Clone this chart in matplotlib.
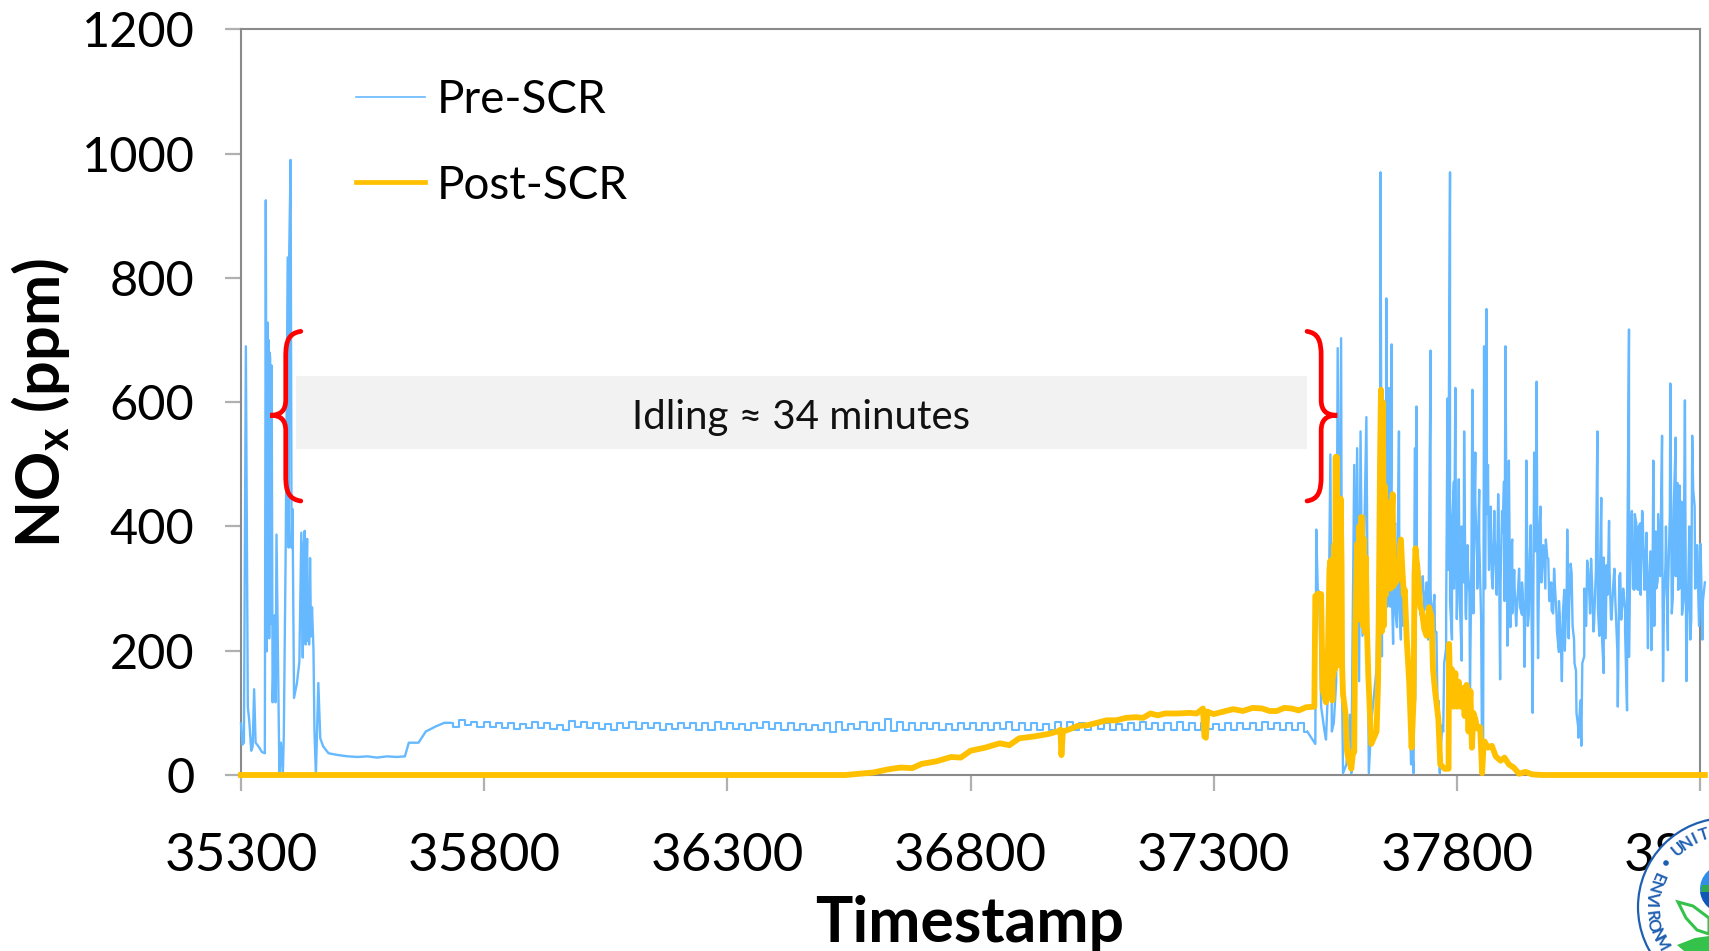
import numpy as np
import matplotlib
matplotlib.use("Agg")
import matplotlib.pyplot as plt
from matplotlib.path import Path
from matplotlib.patches import PathPatch, Rectangle, Circle, Polygon

plt.rcParams['font.family'] = ['Lato', 'DejaVu Sans']
plt.rcParams['mathtext.fontset'] = 'custom'
plt.rcParams['mathtext.bf'] = 'Lato:bold'
plt.rcParams['mathtext.rm'] = 'Lato'

# ---- data ----
pre_start_t = [35300,35303,35306,35310,35314,35317,35321,35324,35327,35330,35336,35343,35349,35351,35353,35355,35356,35357,35358,35359,35360,35361,35363,35365,35369,35371,35373,35377,35379,35382,35386,35388,35392,35396,35398,35399,35402,35404,35406,35409,35415,35420,35424,35427,35429,35431,35433,35434,35436,35437,35439,35440,35442,35444,35446,35449,35451,35454,35459,35463,35469,35480,35500,35520,35540,35560,35580,35600,35620,35637,35645,35665,35680,35700,35718]
pre_start_v = [83,49,52,690,110,87,39,46,138,52,46,37,35,925,199,728,240,700,220,680,670,243,659,117,257,117,387,127,0,52,0,63,373,833,366,833,990,366,428,124,148,182,390,189,370,393,210,305,380,216,284,210,349,223,270,203,73,0,148,59,46,35,32,30,29,30,28,30,29,30,52,52,70,78,84]

idle_first_t = 35730
idle_step_t = 12.5
pre_idle_v = [84,78,88,80,86,78,85,77,84,75,83,74,82,75,86,76,84,74,81,73,87,77,85,76,84,74,82,73,83,75,85,74,84,75,83,73,82,74,84,75,83,72,84,73,85,74,83,74,82,73,84,75,86,74,84,73,83,72,82,73,81,72,84,70,85,73,82,74,86,72,84,73,90,71,86,72,83,73,84,74,83,73,82,72,83,74,84,73,83,73,84,74,85,72,84,73,83,73,82,72,86,74,85,73,84,72,83,74,84,73,82,72,83,73,85,74,83,72,84,73,85,72,84,73,83,74,82,72,84,73,84,74,83,72,85,74,84,73,83,72,84,70]

pre_end_t = [37509,37511,37514,37517,37521,37528,37531,37535,37540,37543,37547,37552,37555,37558,37562,37564,37566,37573,37580,37583,37589,37591,37595,37599,37602,37606,37614,37619,37624,37635,37641,37643,37646,37651,37655,37657,37660,37663,37666,37669,37673,37677,37681,37685,37690,37697,37702,37706,37711,37714,37717,37721,37725,37729,37733,37738,37741,37746,37749,37755,37761,37765,37772,37778,37781,37786,37790,37794,37797,37800,37804,37807,37810,37815,37819,37823,37827,37832,37835,37838,37842,37846,37852,37856,37859,37861,37864,37870,37872,37877,37881,37885,37889,37893,37897,37900,37904,37907,37910,37914,37919,37924,37928,37934,37939,37943,37948,37952,37956,37959,37964,37967,37972,37976,37983,37988,37995,38000,38005,38010,38016,38021,38027,38031,38036,38041,38045,38050,38056,38062,38068,38072,38076,38081,38089,38093,38097,38102,38108,38113,38117,38124,38131,38136,38141,38146,38150,38154,38156,38160,38165,38169,38173,38177,38181,38186,38189,38193,38200,38204,38209,38213,38222,38224,38229,38234,38239,38244,38250,38255,38258,38263,38269,38272,38275,38280,38284,38289,38294,38301,38305]
pre_end_v = [50,395,298,295,110,70,57,137,516,70,84,151,687,204,703,144,3,17,97,3,499,204,526,151,553,224,576,3,84,171,472,970,191,338,767,271,623,271,693,211,405,238,553,218,338,231,137,17,3,526,593,305,258,305,265,305,218,683,204,231,70,3,70,204,606,970,218,472,623,251,476,258,184,553,251,332,137,620,352,519,338,459,0,690,392,750,499,432,318,425,318,452,154,425,472,690,208,506,238,379,298,275,332,258,174,506,258,402,100,519,633,188,432,355,379,348,265,332,258,198,151,298,395,271,325,218,168,74,47,191,345,298,348,231,553,224,446,164,338,409,251,332,110,325,278,268,104,717,338,425,298,405,298,405,425,298,365,204,201,506,392,312,546,151,338,201,630,285,543,298,466,258,603,151,271,218,546,432,305,372,218]

# denser middle-of-band readings, merged with the peaks above by timestamp
band_first_t = 37642
band_step_t = 4
pre_band_v = [300,340,280,360,300,420,310,380,260,340,270,320,240,300,230,
              150,60,20,120,300,340,290,320,280,310,275,300,260,290,230,
              120,30,80,180,260,330,280,400,
              300,420,340,280,400,310,260,370,290,340,260,440,300,380,250,30,300,
              420,330,400,300,380,290,420,310,390,280,
              420,300,360,260,330,240,300,270,310,250,330,240,350,230,400,
              360,280,400,310,370,300,350,280,310,260,
              300,230,280,210,260,200,300,220,340,240,
              180,100,60,120,180,
              300,240,330,260,310,240,330,270,
              310,230,350,220,290,330,250,310,
              280,200,320,250,300,230,280,190,
              400,300,420,300,400,290,420,320,390,290,360,260,240,
              300,420,320,460,280,400,290,420,260,430,
              320,470,300,440,280,420,260,400,250,460,300,370,240,340,280,310]

post_t = [35300,36543,36600,36630,36656,36680,36700,36730,36760,36780,36800,36830,36860,36880,36900,36930,36960,36983,36985,36987,36990,37005,37020,37040,37060,37080,37100,37120,37140,37155,37170,37185,37200,37225,37250,37265,37278,37281,37284,37287,37300,37320,37340,37360,37380,37400,37415,37430,37445,37460,37475,37490,37507,
          37509,37515,37521,37524,37531,37535,37538,37540,37541,37543,37544,37545,37546,37548,37549,37551,37552,37553,37554,37556,37557,37558,37559,37561,37563,37564,37566,37571,37574,37576,37583,37587,37589,37591,37595,37597,37599,37601,37603,37605,37607,37609,37611,37613,37615,37618,37621,37624,37635,37638,37640,37642,37644,37646,37648,37650,37652,37654,37656,37658,37660,37662,37664,37666,37668,37670,37672,37675,37680,37683,37685,37688,37691,37693,37697,37702,37707,37711,37713,37715,37718,37722,37725,37728,37733,37738,37743,37748,37751,37755,37762,37766,37775,37783,37784,37787,37790,37793,37797,37800,37804,37808,37812,37816,37820,37824,37828,37831,37834,37838,37842,37848,37852,37855,37857,37864,37872,37880,37890,37898,37907,37917,37928,37941,37955,37975,38310]
post_v = [0,0,4,9,12,11,18,22,29,28,39,44,51,48,59,62,66,71,73,32,70,74,79,80,84,88,88,92,93,92,99,96,99,99,100,99,107,62,60,102,98,102,106,103,108,107,103,103,108,107,104,109,110,
          288,292,291,137,117,200,330,345,150,345,120,348,160,370,170,512,190,512,177,440,177,445,177,445,340,177,130,100,40,30,10,40,37,231,372,260,400,250,415,415,240,380,230,350,240,160,104,50,70,150,300,500,620,231,600,240,465,290,440,304,350,412,300,412,452,304,340,310,318,370,379,330,290,298,218,151,44,120,320,365,340,305,270,265,235,224,270,255,170,137,90,17,10,10,211,120,170,110,164,110,150,110,140,95,145,70,135,44,100,90,75,77,3,50,54,44,47,30,23,28,17,12,2,5,1,0,0]

y_ticks = [0,200,400,600,800,1000,1200]
x_ticks = [35300,35800,36300,36800,37300,37800,38300]

# ---- figure ----
W, H = 1709, 951
fig = plt.figure(figsize=(W/100, H/100), dpi=100, facecolor='white')
ax = fig.add_axes([241/W, (H-775)/H, 1459/W, (775-29.4)/H])

BLUE = '#66B9FF'
GOLD = '#FFC000'
GRAY = '#8A8A8A'
LW = 1.7

pre_idle_t = idle_first_t + idle_step_t*np.arange(len(pre_idle_v))
band_t = band_first_t + band_step_t*np.arange(len(pre_band_v))
merged_t = np.r_[pre_end_t, band_t]
merged_v = np.r_[pre_end_v, pre_band_v]
order = np.argsort(merged_t, kind='stable')
merged_t, merged_v = merged_t[order], merged_v[order]

ax.plot(pre_start_t + [idle_first_t], pre_start_v + [pre_idle_v[0]], color=BLUE, lw=LW, clip_on=False, zorder=3)
ax.plot(pre_idle_t, pre_idle_v, color=BLUE, lw=1.5, drawstyle='steps-mid', zorder=3, solid_joinstyle='round')
ax.plot(np.r_[pre_idle_t[-1], merged_t], np.r_[pre_idle_v[-1], merged_v], color=BLUE, lw=LW, clip_on=False, zorder=3)
ax.plot(post_t, post_v, color=GOLD, lw=4.2, clip_on=False, zorder=4, solid_joinstyle='round')

# legend entries
h_pre, = ax.plot([], [], color=BLUE, lw=1.2, label='Pre-SCR')
h_post, = ax.plot([], [], color=GOLD, lw=3.4, label='Post-SCR')

ax.set_xlim(35300, 38300)
ax.set_ylim(0, 1200)
ax.set_xticks(x_ticks)
ax.set_yticks(y_ticks)
ax.tick_params(axis='x', length=11.5, width=1.6, color='#B0B0B0', labelsize=38, pad=30.5)
ax.tick_params(axis='y', length=11.5, width=1.6, color='#B0B0B0', labelsize=35, pad=22)
for s in ax.spines.values():
    s.set_color(GRAY)
    s.set_linewidth(1.5)

# grey band and label
ax.add_patch(Rectangle((35413, 525), 37492-35413, 117, facecolor='#F2F2F2', edgecolor='none', zorder=1))
ax.text(36452, 576, 'Idling ≈ 34 minutes', ha='center', va='center', fontsize=29, color='#111111', zorder=5)

# curly braces
def brace(xtip, xbody, xend, ytop, ymid, ybot):
    dx = xend - xbody
    tip = xtip - xbody
    verts = [(xend, ytop),
             (xbody+0.2*dx, ytop-3), (xbody, ytop-15), (xbody, ytop-40),
             (xbody, ymid+25),
             (xbody, ymid+8), (xbody+0.3*tip, ymid), (xtip, ymid),
             (xbody+0.3*tip, ymid), (xbody, ymid-8), (xbody, ymid-25),
             (xbody, ybot+40),
             (xbody, ybot+15), (xbody+0.2*dx, ybot+3), (xend, ybot)]
    codes = [Path.MOVETO, Path.CURVE4, Path.CURVE4, Path.CURVE4, Path.LINETO,
             Path.CURVE4, Path.CURVE4, Path.CURVE4, Path.CURVE4, Path.CURVE4, Path.CURVE4,
             Path.LINETO, Path.CURVE4, Path.CURVE4, Path.CURVE4]
    ax.add_patch(PathPatch(Path(verts, codes), fill=False, edgecolor='#FF0000', lw=3.4, zorder=6, capstyle='round', clip_on=False))

brace(35360, 35392, 35423, 714, 579, 441)
brace(37554, 37521, 37492, 714, 579, 441)

# legend
ax.legend(handles=[h_pre, h_post], loc='upper left', bbox_to_anchor=(356/W, 1-79/H), bbox_transform=fig.transFigure, frameon=False,
          fontsize=33, handlelength=1.5, handletextpad=0.26, labelspacing=0.95, borderpad=0, borderaxespad=0)

# axis titles
fig.text(41/W, 1-403/H, r'NO$_{\mathbf{x}}$ (ppm)', rotation=90, ha='center', va='center', fontsize=44, fontweight='bold')
fig.text(970/W, (H-942)/H, 'Timestamp', ha='center', va='baseline', fontsize=45, fontweight='bold')

# agency seal in the corner (pixel coordinates)
ov = fig.add_axes([0, 0, 1, 1], zorder=10)
ov.set_xlim(0, W); ov.set_ylim(H, 0); ov.axis('off'); ov.patch.set_alpha(0)
cx, cy, r = 1727, 907, 89
SEAL = '#1F5FB0'
ov.add_patch(Circle((cx, cy), r, facecolor='white', edgecolor=SEAL, lw=1.6))
for i, ch in enumerate('UNIT'):
    a = np.deg2rad(130 - 7.5*i)
    ov.text(cx+76*np.cos(a), cy-76*np.sin(a), ch, rotation=np.rad2deg(a)-90, rotation_mode='anchor',
            ha='center', va='center', fontsize=12, fontweight='bold', color=SEAL)
for i, ch in enumerate('ENVIRONM'):
    a = np.deg2rad(157 + 7.4*i)
    ov.text(cx+76*np.cos(a), cy-76*np.sin(a), ch, rotation=np.rad2deg(a)-270, rotation_mode='anchor',
            ha='center', va='center', fontsize=12, fontweight='bold', color=SEAL)
ov.add_patch(Circle((1666, 863), 2.8, facecolor=SEAL, edgecolor='none'))
ov.add_patch(Circle((1724, 889), 24, facecolor='#2E8FE8', edgecolor='none'))
g3 = Circle((1724, 889), 24, facecolor='#0F57B8', edgecolor='none'); ov.add_patch(g3)
g3.set_clip_path(Rectangle((1690,892),30,30, transform=ov.transData))
ov.add_patch(Polygon([(1702,885),(1709,885),(1709,892),(1701,892)], closed=True, facecolor='#2FA84F', edgecolor='none'))
ov.add_patch(Polygon([(1678,902),(1693,906),(1709,918),(1709,934),(1697,930),(1686,918)], closed=True, facecolor='white', edgecolor='#35C24A', lw=2.2))
ov.add_patch(Polygon([(1677,945),(1695,938),(1709,936),(1709,951),(1684,951)], closed=True, facecolor='#35C24A', edgecolor='none'))

fig.savefig('out.png', dpi=100)
